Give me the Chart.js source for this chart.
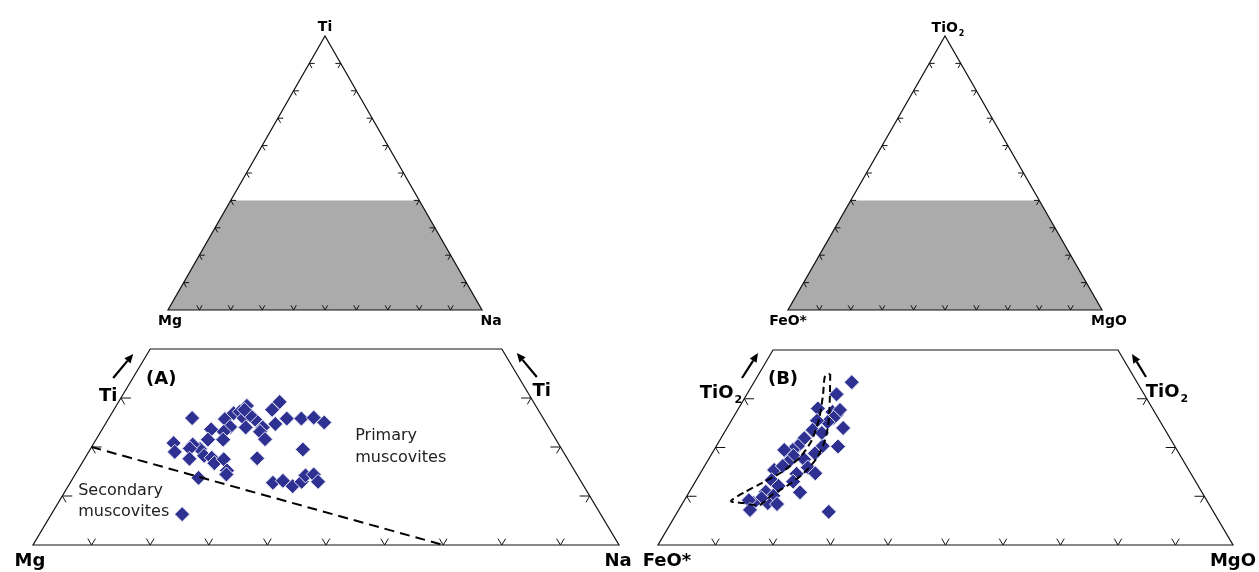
<!DOCTYPE html>
<html>
<head>
<meta charset="utf-8">
<script src="https://cdn.jsdelivr.net/npm/chart.js@4"></script>
<style>
  body { margin: 0; background: #fff; }
  #wrap { position: relative; width: 1259px; height: 572px; }
  #wrap canvas { position: absolute; left: 0; top: 0; }
</style>
</head>
<body>
<div id="wrap"></div>
<script>
// ternary values are in percent: top apex component, right corner component
const tickPct = [10, 20, 30, 40, 50, 60, 70, 80, 90];
const windowPct = 40; // Ti range that the lower panels enlarge

// (A) Ti - Mg - Na, muscovite analyses
const tiA = [25.9, 28.4, 29.2, 27.6, 25.8, 25.8, 26.0, 25.0, 25.7, 26.9, 27.2, 25.9, 25.6, 26.5,
  24.0, 24.0, 23.1, 21.6, 24.7, 24.1, 23.1, 21.5, 23.6, 21.5, 19.6, 20.5, 19.7, 20.8, 19.0,
  17.6, 18.2, 17.8, 16.7, 17.5, 15.2, 14.4, 13.7, 17.7, 19.5, 12.7, 13.1, 12.0, 12.9, 14.2,
  14.4, 12.9, 6.3, 27.6];
const naA = [14.2, 22.3, 27.5, 27.0, 30.4, 32.9, 34.9, 37.2, 19.9, 20.8, 21.7, 23.0, 25.1, 23.8,
  24.3, 27.2, 27.2, 28.8, 29.0, 21.6, 21.0, 21.7, 18.6, 19.1, 18.7, 17.0, 16.9, 13.6, 14.7,
  17.9, 20.1, 21.6, 22.6, 23.8, 25.5, 25.8, 21.4, 29.4, 36.3, 34.6, 36.1, 38.3, 39.4, 39.4,
  40.7, 42.2, 22.3, 22.3];
// dashed divide between primary and secondary muscovites
const tiDivideA = [20, 0];
const naDivideA = [0, 70];

// (B) TiO2 - FeO* - MgO
const tiO2B = [33.4, 30.9, 28.0, 27.3, 26.7, 27.7, 26.1, 24.0, 25.2, 25.5, 23.6, 20.3, 20.2, 21.9,
  20.3, 19.5, 19.5, 18.3, 16.9, 17.6, 15.9, 14.7, 14.6, 13.0, 10.8, 15.4, 13.3, 12.1, 10.9,
  10.1, 8.6, 8.4, 9.6, 8.6, 9.2, 7.2, 6.8, 18.8, 23.0, 16.2];
const mgoB = [17.0, 15.6, 13.8, 16.7, 17.7, 17.8, 17.5, 20.2, 16.9, 14.9, 15.1, 18.5, 21.2, 14.5,
  14.2, 13.7, 12.2, 14.4, 14.1, 16.6, 18.1, 20.0, 16.8, 17.0, 19.3, 12.5, 13.1, 14.9, 13.3,
  15.0, 14.8, 16.5, 13.2, 12.3, 11.2, 12.4, 26.3, 17.9, 17.0, 13.6];
// dashed envelope round the trend
const tiO2EnvB = [35.1, 30.8, 25.6, 21.5, 17.8, 14.8, 12.3, 10.3, 8.2, 8.6, 9.0, 10.9, 12.7,
  15.0, 18.1, 21.5, 26.1, 30.8, 34.7, 35.1];
const mgoEnvB = [12.4, 14.5, 16.9, 18.3, 18.7, 18.0, 16.5, 14.7, 13.6, 10.5, 8.2, 9.7, 11.7,
  14.1, 15.7, 16.0, 15.0, 13.3, 11.7, 12.4];

const DOT = '#2e3192';
const FONT = '"DejaVu Sans", sans-serif';

function tern(top, right) {
  return { x: right / 100 + top / 200, y: top / 100 };
}
function pts(tops, rights) {
  return tops.map((t, i) => tern(t, rights[i]));
}

function dotSet(data) {
  return {
    data: data, pointStyle: 'rectRot', pointRadius: 7.5, pointHoverRadius: 7.5,
    backgroundColor: DOT, borderColor: '#e4e4f4', borderWidth: 1, order: 1
  };
}
function dashSet(data, dash) {
  return {
    data: data, showLine: true, pointRadius: 0, borderColor: '#000', borderWidth: 2,
    borderDash: dash, fill: false, tension: 0.25, order: 0
  };
}

const TL = [windowPct, 0], TR = [windowPct, 100 - windowPct];
const panels = [
  { box: [168, 36, 482, 310], ymax: 1, shade: true, d1: 1.7, d2: 1.7, datasets: [],
    labels: [
      { text: 'Ti', at: [100, 0], dx: 0, dy: -5, size: 14, bold: true },
      { text: 'Mg', at: [0, 0], dx: 2, dy: 15, size: 14, bold: true },
      { text: 'Na', at: [0, 100], dx: 9, dy: 15, size: 14, bold: true }
    ], arrows: [] },
  { box: [788, 36, 1102, 310], ymax: 1, shade: true, d1: 1.7, d2: 1.7, datasets: [],
    labels: [
      { text: 'TiO', sub: '2', at: [100, 0], dx: 3, dy: -4, size: 14, bold: true },
      { text: 'FeO*', at: [0, 0], dx: 0, dy: 15, size: 14, bold: true },
      { text: 'MgO', at: [0, 100], dx: 7, dy: 15, size: 14, bold: true }
    ], arrows: [] },
  { box: [33, 349, 619, 545], ymax: windowPct / 100, d1: 1.7, d2: 1.3,
    datasets: [dashSet(pts(tiDivideA, naDivideA), [10, 6]), dotSet(pts(tiA, naA))],
    labels: [
      { text: 'Mg', at: [0, 0], dx: -3, dy: 21, size: 18, bold: true },
      { text: 'Na', at: [0, 100], dx: -1, dy: 21, size: 18, bold: true },
      { text: 'Ti', at: TL, dx: -42, dy: 52, size: 18, bold: true },
      { text: 'Ti', at: TR, dx: 40, dy: 47, size: 18, bold: true },
      { text: '(A)', at: TL, dx: 11, dy: 35, size: 18, bold: true },
      { text: 'Primary', at: TL, dx: 205, dy: 91, size: 16, align: 'left', color: '#222' },
      { text: 'muscovites', at: TL, dx: 205, dy: 113, size: 16, align: 'left', color: '#222' },
      { text: 'Secondary', at: TL, dx: -72, dy: 146, size: 16, align: 'left', color: '#222' },
      { text: 'muscovites', at: TL, dx: -72, dy: 167, size: 16, align: 'left', color: '#222' }
    ],
    arrows: [{ at: TL, tail: [-37, 29], head: [-17, 5] }, { at: TR, tail: [35, 28], head: [15, 4] }] },
  { box: [658, 350, 1233, 545], ymax: windowPct / 100, d1: 1.7, d2: 1.3,
    datasets: [dashSet(pts(tiO2EnvB, mgoEnvB), [7, 4]), dotSet(pts(tiO2B, mgoB))],
    labels: [
      { text: 'FeO*', at: [0, 0], dx: 9, dy: 21, size: 18, bold: true },
      { text: 'MgO', at: [0, 100], dx: 0, dy: 21, size: 18, bold: true },
      { text: 'TiO', sub: '2', at: TL, dx: -52, dy: 48, size: 18, bold: true },
      { text: 'TiO', sub: '2', at: TR, dx: 49, dy: 47, size: 18, bold: true },
      { text: '(B)', at: TL, dx: 10, dy: 34, size: 18, bold: true }
    ],
    arrows: [{ at: TL, tail: [-31, 28], head: [-15, 3] }, { at: TR, tail: [28, 27], head: [14, 4] }] }
];

function drawLabel(ctx, L, ax, ay) {
  const wt = L.bold ? 'bold ' : '';
  const font = wt + L.size + 'px ' + FONT;
  const subFont = wt + Math.round(L.size * 0.6) + 'px ' + FONT;
  ctx.font = font;
  const w1 = ctx.measureText(L.text).width;
  let w2 = 0;
  if (L.sub) { ctx.font = subFont; w2 = ctx.measureText(L.sub).width + 1; }
  let x = ax + L.dx;
  const y = ay + L.dy;
  if (L.align !== 'left') x -= (w1 + w2) / 2;
  ctx.textAlign = 'left';
  ctx.textBaseline = 'alphabetic';
  ctx.fillStyle = L.color || '#000';
  ctx.font = font;
  ctx.fillText(L.text, x, y);
  if (L.sub) { ctx.font = subFont; ctx.fillText(L.sub, x + w1 + 1, y + L.size * 0.25); }
}

function drawArrow(ctx, x0, y0, x1, y1) {
  const a = Math.atan2(y1 - y0, x1 - x0), len = 9, hw = 4;
  const bx = x1 - Math.cos(a) * len, by = y1 - Math.sin(a) * len;
  ctx.strokeStyle = '#000';
  ctx.fillStyle = '#000';
  ctx.lineWidth = 2.2;
  ctx.beginPath(); ctx.moveTo(x0, y0); ctx.lineTo(bx, by); ctx.stroke();
  ctx.beginPath();
  ctx.moveTo(x1, y1);
  ctx.lineTo(bx + Math.sin(a) * hw, by - Math.cos(a) * hw);
  ctx.lineTo(bx - Math.sin(a) * hw, by + Math.cos(a) * hw);
  ctx.closePath(); ctx.fill();
}

function framePlugin(p) {
  const top = p.ymax * 100;
  const P = (chart, t, r) => {
    const c = tern(t, r);
    return [chart.scales.x.getPixelForValue(c.x), chart.scales.y.getPixelForValue(c.y)];
  };
  const poly = (ctx, list) => {
    ctx.beginPath();
    list.forEach((q, i) => i ? ctx.lineTo(q[0], q[1]) : ctx.moveTo(q[0], q[1]));
    ctx.closePath();
  };
  const seg = (ctx, a, b) => { ctx.moveTo(a[0], a[1]); ctx.lineTo(b[0], b[1]); };
  return {
    id: 'ternFrame',
    beforeDatasetsDraw(chart) {
      const ctx = chart.ctx;
      const Q = (t, r) => P(chart, t, r);
      ctx.save();
      if (p.shade) {
        poly(ctx, [Q(0, 0), Q(0, 100), Q(windowPct, 100 - windowPct), Q(windowPct, 0)]);
        ctx.fillStyle = '#ababab';
        ctx.fill();
      }
      const outline = top >= 100 ? [Q(0, 0), Q(0, 100), Q(100, 0)]
        : [Q(0, 0), Q(0, 100), Q(top, 100 - top), Q(top, 0)];
      poly(ctx, outline);
      ctx.strokeStyle = '#111';
      ctx.lineWidth = 1.2;
      ctx.stroke();
      ctx.beginPath();
      tickPct.forEach(v => {
        // base ticks
        seg(ctx, Q(0, v), Q(p.d2, v - p.d2));
        seg(ctx, Q(0, v), Q(p.d2, v));
        if (v < top) {
          // left side
          seg(ctx, Q(v, 0), Q(v, p.d1));
          seg(ctx, Q(v, 0), Q(v - p.d2, p.d2));
          // right side
          seg(ctx, Q(v, 100 - v), Q(v, 100 - v - p.d1));
          seg(ctx, Q(v, 100 - v), Q(v - p.d2, 100 - v));
        }
      });
      ctx.lineWidth = 1;
      ctx.stroke();
      ctx.restore();
    },
    afterDraw(chart) {
      const ctx = chart.ctx;
      ctx.save();
      p.labels.forEach(L => {
        const a = P(chart, L.at[0], L.at[1]);
        drawLabel(ctx, L, a[0], a[1]);
      });
      p.arrows.forEach(A => {
        const a = P(chart, A.at[0], A.at[1]);
        drawArrow(ctx, a[0] + A.tail[0], a[1] + A.tail[1], a[0] + A.head[0], a[1] + A.head[1]);
      });
      ctx.restore();
    }
  };
}

const wrap = document.getElementById('wrap');
panels.forEach(p => {
  const cv = document.createElement('canvas');
  cv.width = 1259;
  cv.height = 572;
  wrap.appendChild(cv);
  new Chart(cv, {
    type: 'scatter',
    data: { datasets: p.datasets },
    options: {
      responsive: false,
      animation: false,
      events: [],
      layout: { padding: { left: p.box[0], top: p.box[1], right: 1259 - p.box[2], bottom: 572 - p.box[3] } },
      plugins: { legend: { display: false }, tooltip: { enabled: false } },
      scales: {
        x: { type: 'linear', min: 0, max: 1, display: false },
        y: { type: 'linear', min: 0, max: p.ymax, display: false }
      }
    },
    plugins: [framePlugin(p)]
  });
});
</script>
</body>
</html>
